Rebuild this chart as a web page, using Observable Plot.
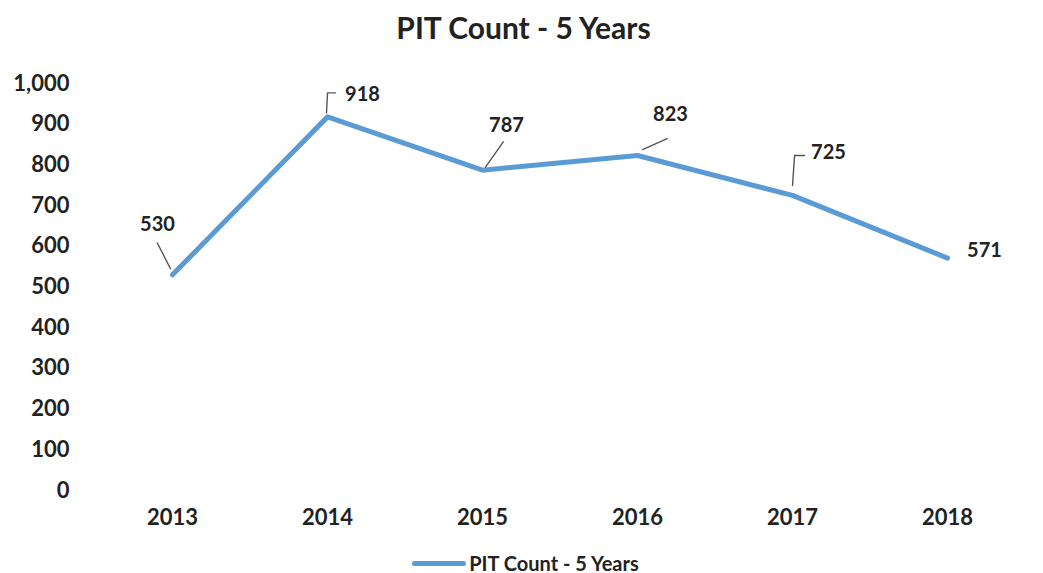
<!DOCTYPE html>
<html>
<head>
<meta charset="utf-8">
<script src="https://cdn.jsdelivr.net/npm/d3@7"></script>
<script src="https://cdn.jsdelivr.net/npm/@observablehq/plot@0.6"></script>
<style>
  body { margin: 0; background: #fff; font-family: Lato, "Open Sans", sans-serif; }
  #wrap { width: 1043px; height: 573px; position: relative; }
  #title { position: absolute; left: 0; top: 8px; width: 1047px; text-align: center; font-size: 30px; font-weight: 700; color: #222; line-height: 38px; }
  #chart { position: absolute; left: 0; top: 55px; }
  #legend { position: absolute; left: 0; top: 551px; width: 1043px; display: flex; justify-content: center; align-items: center; font-size: 20px; font-weight: 700; color: #222; line-height: 24px; }
  #legend .sw { width: 54px; height: 5px; border-radius: 3px; background: #5B9BD5; margin-right: 3px; margin-left: 8px; }
</style>
</head>
<body>
<div id="wrap">
  <div id="title">PIT Count - 5 Years</div>
  <div id="chart"></div>
  <div id="legend"><span class="sw"></span><span>PIT Count - 5 Years</span></div>
</div>
<script>
const years = ["2013", "2014", "2015", "2016", "2017", "2018"];
const counts = [530, 918, 787, 823, 725, 571];
const yTicks = [0, 100, 200, 300, 400, 500, 600, 700, 800, 900, 1000];

const data = years.map((year, i) => ({year, count: counts[i]}));

// label placement (styling, not data)
const labelPos = {
  "2013": {dx: -15, dy: -50},
  "2014": {dx: 35, dy: -22},
  "2015": {dx: 24, dy: -45},
  "2016": {dx: 33, dy: -41},
  "2017": {dx: 36, dy: -43},
  "2018": {dx: 37, dy: -8}
};
// leader lines
const leaders = {
  "2013": {rotate: -27, length: 29, dx: -2, dy: -6},
  "2014": {rotate: 3, length: 20, dx: -1, dy: -4},
  "2015": {rotate: 35, length: 31, dx: 3, dy: -3},
  "2016": {rotate: 66, length: 27, dx: 5, dy: -6},
  "2017": {rotate: 4, length: 30, dx: 0, dy: -10},
  "2018": null
};
const seg = {draw(context, l) { context.moveTo(0, 0); context.lineTo(0, -l); }};

const marks = [
  Plot.line(data, {x: "year", y: "count", stroke: "#5B9BD5", strokeWidth: 5, strokeLinejoin: "round", strokeLinecap: "round"})
];
for (const d of data) {
  const lp = leaders[d.year];
  if (lp) {
    marks.push(Plot.vector([d], {x: "year", y: "count", length: lp.length, rotate: lp.rotate, anchor: "start",
      shape: seg, dx: lp.dx, dy: lp.dy, stroke: "#555", strokeWidth: 1.4}));
  }
  const p = labelPos[d.year];
  marks.push(Plot.text([d], {x: "year", y: "count", text: dd => String(dd.count), dx: p.dx, dy: p.dy,
    fontSize: 20, fontWeight: 700, fill: "#222"}));
}
// small hooks on 2014 and 2017 leaders
marks.push(Plot.vector([data[1]], {x: "year", y: "count", length: 7, rotate: 90, anchor: "start",
  shape: seg, dx: 1, dy: -24, stroke: "#555", strokeWidth: 1.4}));
marks.push(Plot.vector([data[4]], {x: "year", y: "count", length: 10, rotate: 90, anchor: "start",
  shape: seg, dx: 2, dy: -40, stroke: "#555", strokeWidth: 1.4}));

const chart = Plot.plot({
  width: 1043,
  height: 480,
  marginTop: 28,
  marginBottom: 45,
  marginLeft: 94,
  marginRight: 19,
  style: {fontFamily: "Lato, 'Open Sans', sans-serif", fontSize: "22px", fontWeight: 700, color: "#222", background: "transparent"},
  x: {type: "point", domain: years, padding: 0.5, label: null, tickSize: 0, tickPadding: 19},
  y: {domain: [0, 1000], ticks: yTicks, tickFormat: d3.format(","), label: null, tickSize: 0, tickPadding: 25},
  marks
});
document.getElementById("chart").appendChild(chart);
</script>
</body>
</html>
